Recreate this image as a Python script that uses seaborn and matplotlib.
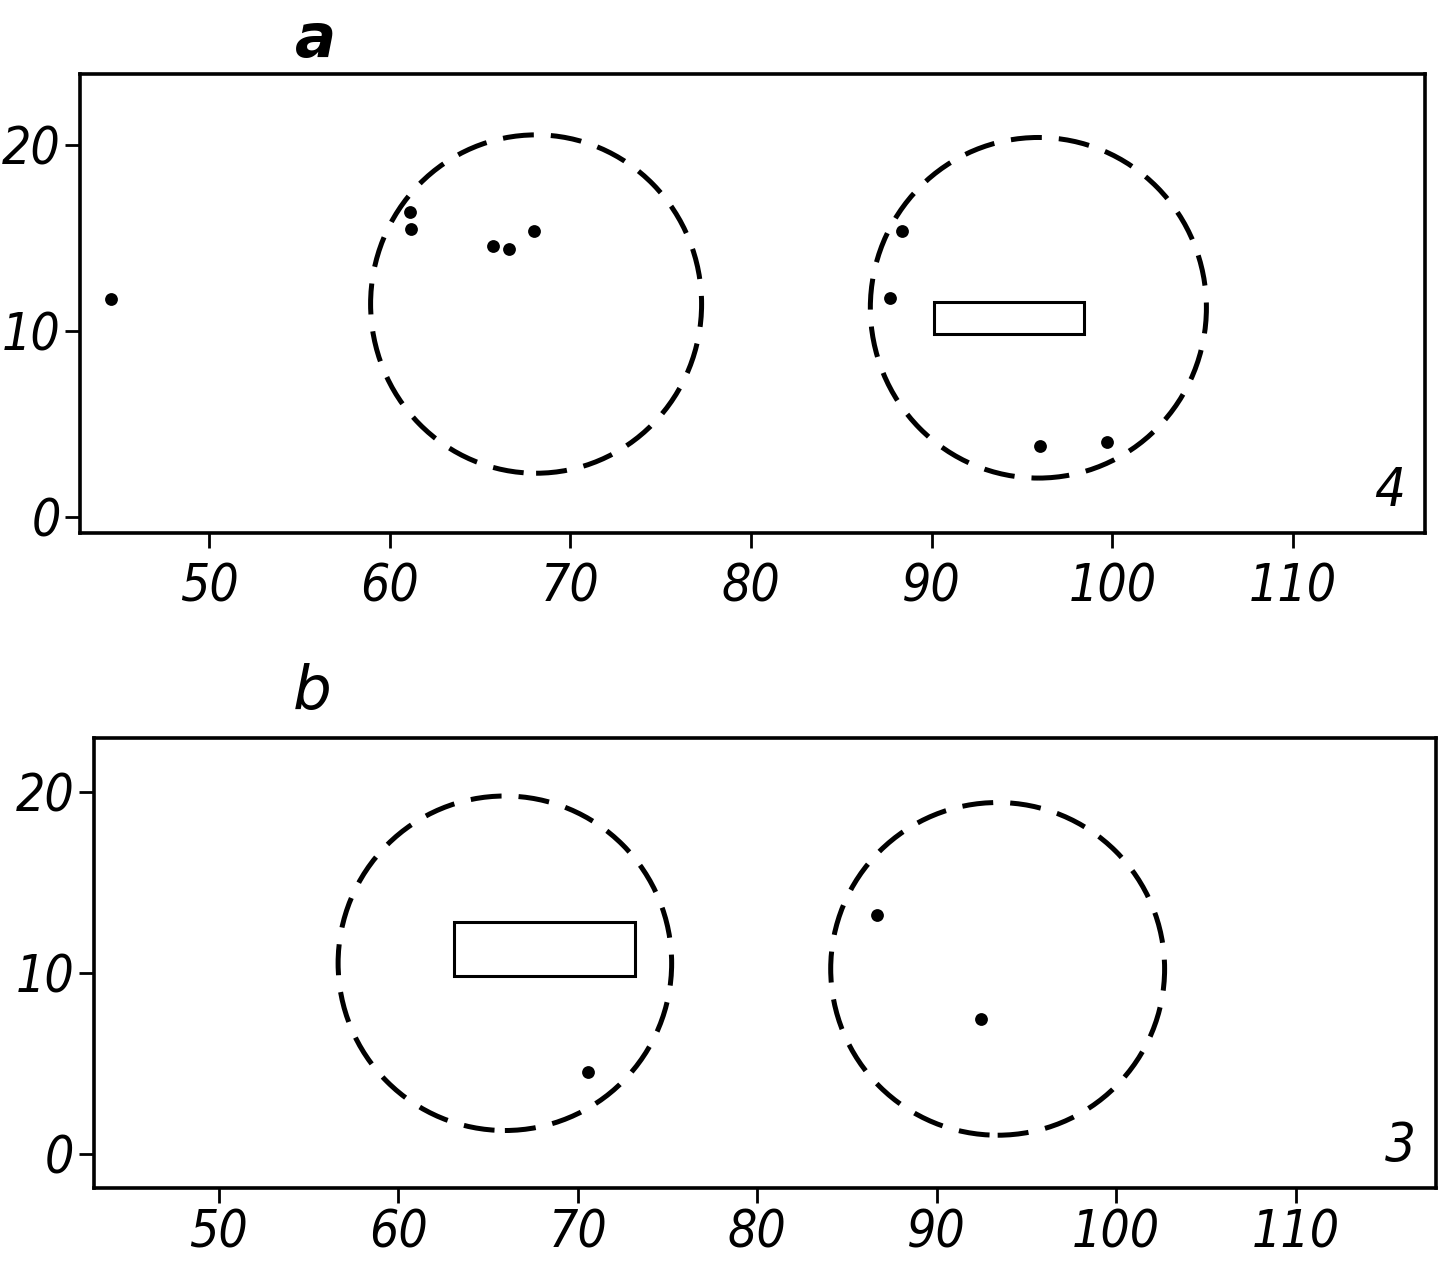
import matplotlib
matplotlib.use("Agg")
import matplotlib.pyplot as plt
import seaborn as sns
from matplotlib import font_manager
from matplotlib.patches import Ellipse, Rectangle

# =====================================
# DATA
# =====================================

x_ticks = [50, 60, 70, 80, 90, 100, 110]
y_ticks = [0, 10, 20]

# panel a
a_pts_x = [44.55, 61.1, 61.15, 65.7, 66.6, 68.0, 88.35, 87.7, 96.0, 99.7]
a_pts_y = [11.73, 16.4, 15.5, 14.54, 14.43, 15.35, 15.35, 11.77, 3.85, 4.07]
a_circ_cx = [68.1, 95.9]
a_circ_cy = [11.45, 11.25]
a_circ_rx = [9.16, 9.3]
a_circ_ry = [9.08, 9.14]
a_rect = [90.1, 9.85, 8.3, 1.7]   # x, y, width, height
a_count = "4"

# panel b
b_pts_x = [70.6, 86.66, 92.48]
b_pts_y = [4.5, 13.2, 7.45]
b_circ_cx = [65.95, 93.4]
b_circ_cy = [10.53, 10.22]
b_circ_rx = [9.29, 9.3]
b_circ_ry = [9.24, 9.19]
b_rect = [63.1, 9.8, 10.1, 3.0]
b_count = "3"

# =====================================
# STYLE
# =====================================

sns.set_style("ticks")

# narrow italic font if one is installed
narrow = [
    f for f in font_manager.fontManager.ttflist
    if ("Narrow" in f.name or "Condensed" in f.name
        or f.stretch in ("condensed", "semi-condensed", 600, 700)
        or "Condensed" in f.fname or "Narrow" in f.fname)
]
if narrow:
    narrow.sort(key=lambda f: (f.style == "normal", f.weight != 400))
    lab_font = font_manager.FontProperties(fname=narrow[0].fname)
    lab_size = 37
else:
    lab_font = font_manager.FontProperties(family="DejaVu Sans", style="italic")
    lab_size = 30

plt.rcParams["font.family"] = ["DejaVu Sans"]
plt.rcParams["text.color"] = "black"
plt.rcParams["xtick.color"] = "black"
plt.rcParams["ytick.color"] = "black"

fig = plt.figure(figsize=(14.4, 12.64), dpi=100)

ax_a = fig.add_axes([0.0556, 0.578, 0.934, 0.3635])
ax_b = fig.add_axes([0.065, 0.0605, 0.932, 0.356])


def draw_panel(ax, px, py, cx, cy, rx, ry, rect, count, xlim, ylim, xpad):
    sns.scatterplot(
        x=px,
        y=py,
        ax=ax,
        color="black",
        s=85,
        linewidth=0,
        zorder=3
    )

    for x0, y0, wx, wy in zip(cx, cy, rx, ry):
        ax.add_patch(
            Ellipse(
                (x0, y0),
                2 * wx,
                2 * wy,
                fill=False,
                edgecolor="black",
                linewidth=3.6,
                linestyle=(0, (6.2, 3.4))
            )
        )

    ax.add_patch(
        Rectangle(
            (rect[0], rect[1]),
            rect[2],
            rect[3],
            fill=False,
            edgecolor="black",
            linewidth=2.2
        )
    )

    ax.set_xlim(*xlim)
    ax.set_ylim(*ylim)
    ax.set_xticks(x_ticks)
    ax.set_yticks(y_ticks)

    ax.tick_params(
        axis="both",
        direction="out",
        length=11,
        width=2,
        color="black",
        labelcolor="black"
    )
    ax.tick_params(axis="x", pad=xpad)
    ax.tick_params(axis="y", pad=3)

    for lab in ax.get_xticklabels() + ax.get_yticklabels():
        lab.set_fontproperties(lab_font)
        lab.set_fontsize(lab_size)
        lab.set_color("black")

    for sp in ax.spines.values():
        sp.set_visible(True)
        sp.set_linewidth(2.6)
        sp.set_color("black")

    ax.text(
        0.985, 0.035, count,
        transform=ax.transAxes,
        ha="right", va="bottom",
        fontproperties=lab_font, fontsize=lab_size + 2
    )


draw_panel(ax_a, a_pts_x, a_pts_y, a_circ_cx, a_circ_cy, a_circ_rx, a_circ_ry,
           a_rect, a_count, (42.86, 117.3), (-0.86, 23.8), 10)

draw_panel(ax_b, b_pts_x, b_pts_y, b_circ_cx, b_circ_cy, b_circ_rx, b_circ_ry,
           b_rect, b_count, (43.04, 117.8), (-1.86, 23.0), 4)

fig.text(0.219, 0.968, "a", fontsize=44, style="italic", fontweight="bold",
         ha="center", va="center")
fig.text(0.217, 0.452, "b", fontsize=44, style="italic",
         ha="center", va="center")

fig.savefig("out.png", dpi=100)
